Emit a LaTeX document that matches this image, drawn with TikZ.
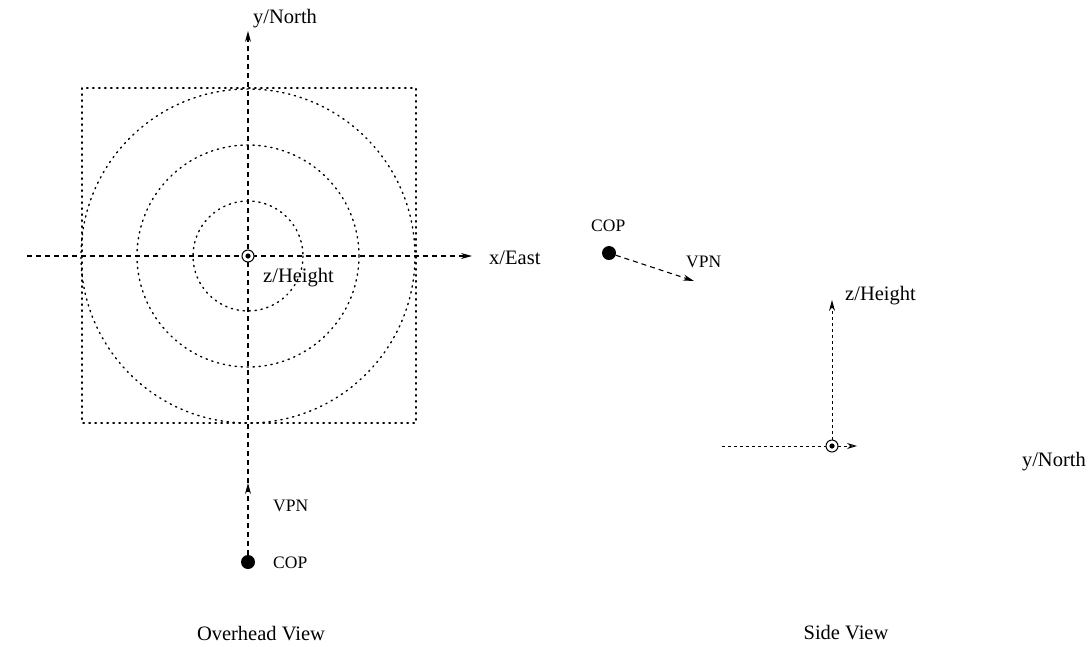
\documentclass[tikz,border=0pt]{standalone}
\usepackage{fontspec}
\setmainfont{Liberation Serif}
\usetikzlibrary{arrows.meta}
\begin{document}
\begin{tikzpicture}[x=1pt,y=-1pt,
  dotline/.style={line width=1.4pt,dash pattern=on 1.3pt off 4.7pt,line cap=round},
  tip/.style={-{Stealth[length=11pt,width=6pt]}},
  axis/.style={line width=1.1pt,dash pattern=on 5pt off 4pt,tip},
  fineaxis/.style={line width=1pt,dash pattern=on 3pt off 3pt},
  lbl/.style={font=\fontsize{20.5}{24}\selectfont,inner sep=0pt},
  small/.style={font=\fontsize{17.5}{20}\selectfont,inner sep=0pt},
  cop/.style={circle,fill=black,minimum size=14pt,inner sep=0pt},
  origin/.style={circle,draw,fill=white,line width=1pt,minimum size=12pt,inner sep=0pt}]
\useasboundingbox (0,0) rectangle (1089,646);

% ---- overhead view ----
\coordinate (oc) at (248,256);
\draw[dotline] (82,88) rectangle (416,423);
\draw[dotline] (oc) circle (167);
\draw[dotline] (oc) circle (111);
\draw[dotline] (oc) circle (55);
\coordinate (xw) at (27,256);
\coordinate (xe) at (472,256);
\coordinate (yn) at (248,31);
\node[cop] (cop1) at (248,562) {};
\coordinate (vpn1) at (248,483);
\draw[axis] (xw) -- (xe);
\draw[axis] (vpn1) -- (yn);
\draw[axis] (cop1) -- (vpn1);
\node[origin] (o1) at (oc) {};
\fill (o1.center) circle (2.6);
\node[lbl,anchor=west] (xlab) at (489,258) {x/East};
\node[lbl,anchor=west] (ylab) at (253,19) {y/North};
\node[lbl,anchor=west] (zlab1) at (263,278) {z/Height};
\node[small,anchor=west] (vpnl1) at (273,506) {VPN};
\node[small,anchor=west] (copl1) at (273,563) {COP};
\node[lbl] (cap1) at (261,634) {Overhead View};

% ---- side view ----
\coordinate (sc) at (832,446);
\coordinate (sw) at (722,446);
\coordinate (se) at (857,446);
\coordinate (sz) at (832,300);
\draw[fineaxis] (sw) -- (sc);
\draw[fineaxis,-{Stealth[length=10pt,width=6pt,open]}] (sc) -- (se);
\draw[fineaxis,tip] (sc) -- (sz);
\node[origin] (o2) at (sc) {};
\fill (o2.center) circle (2.6);
\node[lbl,anchor=west] (zlab2) at (845,296) {z/Height};
\node[lbl,anchor=east] (ylab2) at (1086,462) {y/North};
\node[cop] (cop2) at (609,253) {};
\coordinate (vpn2) at (694,281);
\draw[axis] (cop2) -- (vpn2);
\node[small,anchor=west] (vpnl2) at (686,262) {VPN};
\node[small,anchor=west] (copl2) at (591,226) {COP};
\node[lbl] (cap2) at (846,633) {Side View};
\end{tikzpicture}
\end{document}
